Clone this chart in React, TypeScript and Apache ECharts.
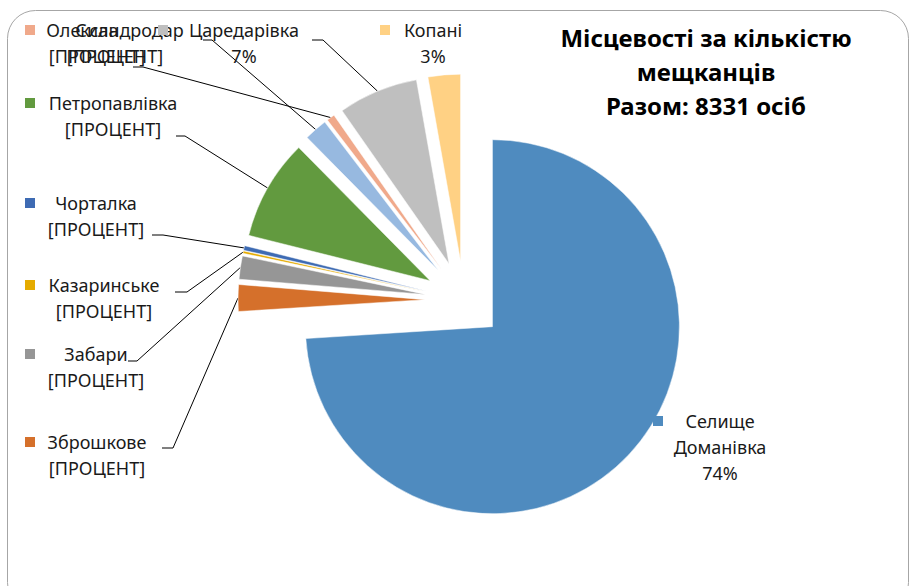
import React, { useEffect, useRef } from 'react';
import * as echarts from 'echarts';

// ---- data ----
const categories = [
  'Селище Доманівка',
  'Зброшкове',
  'Забари',
  'Казаринське',
  'Чорталка',
  'Петропавлівка',
  'Сила',
  'Олександродар',
  'Царедарівка',
  'Копані',
];
const residents = [6164, 192, 167, 17, 33, 725, 167, 58, 575, 233];
// whether the Excel label shows a real percentage or the broken "[ПРОЦЕНТ]" field
const showsPercent = [true, false, false, false, false, false, false, false, true, true];
const brokenField = '[ПРОЦЕНТ]';
const titleLines = ['Місцевості за кількістю', 'мещканців'];

// ---- styles / layout ----
const colors = [
  '#4F8BBF', '#D5702B', '#969696', '#E5AB00', '#3E6BB3',
  '#629A3F', '#97B9E0', '#F0A98B', '#BFBFBF', '#FFD184',
];
// label placement: legend-key left x, first-line centre y, text-block centre x
const labelKeyX = [653, 25, 25, 25, 25, 25, 25, 25, 158, 380];
const labelLineY = [421, 442, 354, 285, 203, 103, 30, 30, 30, 30];
const labelCenterX = [720, 97, 96, 104, 96, 113, 97, 115, 244, 433];
// leader line: label-side start and bend points (null = no leader line)
const leaderStart: (number[] | null)[] = [
  null, [162, 448], [128, 361], [175, 292], [152, 235], [176, 136], [203, 40], [133, 67], [312, 40], null,
];
const leaderBend: (number[] | null)[] = [
  null, [173, 448], [137, 361], [187, 292], [163, 235], [185, 136], [212, 40], [143, 67], [323, 40], null,
];

const CX = 464;
const CY = 300;
const R = 187;
const OFFSET = 39;
const FONT = '"Noto Sans", "DejaVu Sans", sans-serif';

export default function App() {
  const ref = useRef<HTMLDivElement>(null);

  useEffect(() => {
    if (!ref.current) return;
    const chart = echarts.init(ref.current, undefined, { renderer: 'svg' });
    const total = residents.reduce((a, b) => a + b, 0);

    // mid angles (clockwise from 12 o'clock) for leader line anchors
    const mids: number[] = [];
    let acc = 0;
    residents.forEach((v) => {
      const a0 = (acc / total) * 360;
      acc += v;
      const a1 = (acc / total) * 360;
      mids.push(((a0 + a1) / 2) * Math.PI / 180);
    });

    // exploded slices (no labels)
    const sliceData = categories.map((name, i) => ({
      name,
      value: residents[i],
      selected: true,
      itemStyle: { color: colors[i] },
    }));

    // invisible twin pie that carries the Excel-like data labels
    const labelData = categories.map((name, i) => {
      const W = 2 * (labelCenterX[i] - labelKeyX[i] - 22);
      return {
        name,
        value: residents[i],
        itemStyle: { color: 'rgba(0,0,0,0)' },
        label: {
          rich: {
            k: { width: 10, height: 10, backgroundColor: colors[i] },
            g: { width: 12 },
            p: { width: 22 },
            t: {
              width: W,
              align: 'center',
              fontSize: 18,
              lineHeight: 26,
              fontFamily: FONT,
              color: '#1a1a1a',
            },
          },
        },
        labelLine: { show: leaderStart[i] !== null },
      };
    });

    chart.setOption({
      animation: false,
      backgroundColor: '#ffffff',
      graphic: [
        {
          type: 'rect',
          shape: { x: 7.5, y: 10.5, width: 901, height: 600, r: 28 },
          style: { fill: 'none', stroke: '#A6A6A6', lineWidth: 1 },
          silent: true,
        },
        {
          type: 'text',
          x: 706,
          y: 20,
          style: {
            text: [...titleLines, `Разом: ${total} осіб`].join('\n'),
            textAlign: 'center',
            fill: '#000',
            fontFamily: FONT,
            fontWeight: 'bold',
            fontSize: 24,
            lineHeight: 34,
          },
          silent: true,
        },
      ],
      series: [
        {
          type: 'pie',
          center: [CX, CY],
          radius: R,
          startAngle: 90,
          clockwise: true,
          selectedMode: 'multiple',
          selectedOffset: OFFSET,
          silent: true,
          emphasis: { disabled: true },
          itemStyle: { borderColor: '#fff', borderWidth: 0.5 },
          label: { show: false },
          labelLine: { show: false },
          data: sliceData,
        },
        {
          type: 'pie',
          center: [CX, CY],
          radius: R,
          startAngle: 90,
          clockwise: true,
          silent: true,
          avoidLabelOverlap: false,
          emphasis: { disabled: true },
          label: {
            show: true,
            position: 'outside',
            fontFamily: FONT,
            fontSize: 18,
            color: '#1a1a1a',
            formatter: (p: any) => {
              const i = p.dataIndex;
              const nameLines = categories[i].split(' ');
              const last = showsPercent[i] ? `${Math.round(p.percent)}%` : brokenField;
              const lines = [...nameLines, last];
              return lines
                .map((l, j) => (j === 0 ? `{k| }{g| }{t|${l}}` : `{p| }{t|${l}}`))
                .join('\n');
            },
          },
          labelLine: {
            show: true,
            smooth: false,
            lineStyle: { color: '#000', width: 1 },
          },
          labelLayout: (params: any) => {
            const i = params.dataIndex;
            const res: any = {
              x: labelKeyX[i],
              y: labelLineY[i] - 13,
              align: 'left',
              verticalAlign: 'top',
            };
            const s = leaderStart[i];
            const b = leaderBend[i];
            if (s && b) {
              const m = mids[i];
              const ax = CX + (R + OFFSET) * Math.sin(m);
              const ay = CY - (R + OFFSET) * Math.cos(m);
              res.labelLinePoints = [[ax, ay], [b[0], b[1]], [s[0], s[1]]];
            }
            return res;
          },
          data: labelData,
        },
      ],
    });

    return () => chart.dispose();
  }, []);

  return (
    <div
      ref={ref}
      style={{ position: 'fixed', left: 0, top: 0, width: 912, height: 586 }}
    />
  );
}
